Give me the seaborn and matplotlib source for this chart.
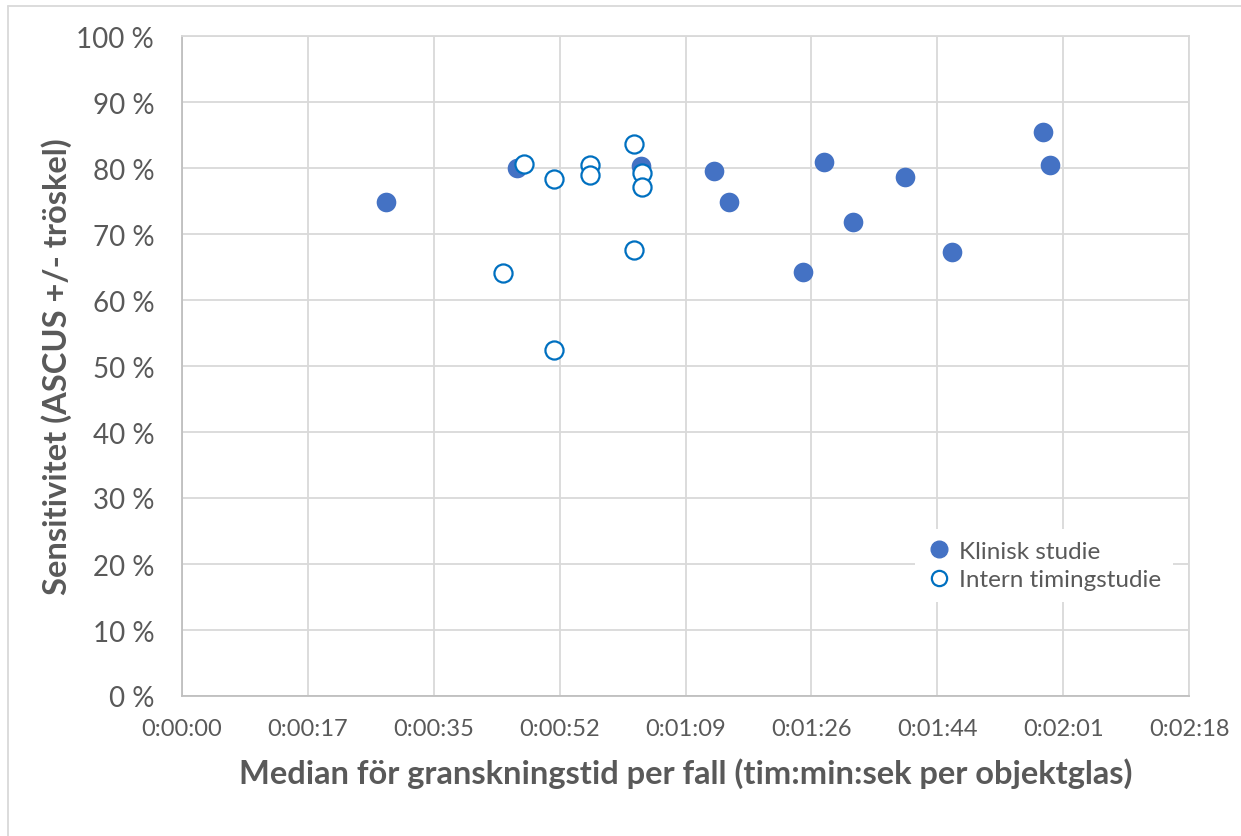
import matplotlib
matplotlib.use("Agg")
import matplotlib.pyplot as plt
import seaborn as sns
import pandas as pd
from matplotlib.lines import Line2D

# median review time per case (seconds) and sensitivity (%)
klinisk_sek = [28.0, 46.0, 63.0, 73.1, 75.1, 85.2, 88.1, 92.1, 99.2, 105.7, 118.2, 119.2]
klinisk_sens = [74.8, 80.0, 80.3, 79.6, 74.9, 64.2, 80.9, 71.8, 78.7, 67.2, 85.5, 80.5]

intern_sek = [44.1, 47.0, 51.0, 51.0, 56.05, 56.05, 62.05, 62.05, 63.1, 63.1]
intern_sens = [64.1, 80.6, 78.3, 52.4, 80.4, 78.9, 83.7, 67.6, 79.2, 77.1]

x_ticks = [0, 17.28, 34.56, 51.84, 69.12, 86.4, 103.68, 120.96, 138.24]
x_labels = ["0:00:00", "0:00:17", "0:00:35", "0:00:52", "0:01:09",
            "0:01:26", "0:01:44", "0:02:01", "0:02:18"]
y_ticks = [0, 10, 20, 30, 40, 50, 60, 70, 80, 90, 100]
y_labels = [f"{v} %" for v in y_ticks]

sns.set_style("white")
plt.rcParams["font.family"] = ["Lato", "DejaVu Sans"]

GREY = "#595959"
GRID = "#d9d9d9"

fig = plt.figure(figsize=(12.41, 8.37), dpi=100)
ax = fig.add_axes([182 / 1241, 1 - 697 / 837, 1007 / 1241, 660 / 837])

df_k = pd.DataFrame({"tid": klinisk_sek, "sens": klinisk_sens})
df_i = pd.DataFrame({"tid": intern_sek, "sens": intern_sens})

sns.scatterplot(data=df_k, x="tid", y="sens", ax=ax, s=200, color="#4472C4",
                edgecolor="#4472C4", linewidth=0, zorder=3)
sns.scatterplot(data=df_i, x="tid", y="sens", ax=ax, s=170, facecolor="white",
                edgecolor="#0070C0", linewidth=1.6, zorder=4)

ax.set_xlim(0, 138.24)
ax.set_ylim(0, 100)
ax.set_xticks(x_ticks)
ax.set_xticklabels(x_labels)
ax.set_yticks(y_ticks)
ax.set_yticklabels(y_labels)
ax.grid(True, color=GRID, linewidth=1.3)
ax.set_axisbelow(True)
for side in ["top", "right"]:
    ax.spines[side].set_color(GRID)
    ax.spines[side].set_linewidth(1.3)
for side in ["left", "bottom"]:
    ax.spines[side].set_color("#bfbfbf")
    ax.spines[side].set_linewidth(1.3)

ax.tick_params(axis="x", length=0, pad=16, labelsize=17, labelcolor=GREY)
ax.tick_params(axis="y", length=0, pad=20, labelsize=20, labelcolor=GREY)

ax.set_xlabel("Median för granskningstid per fall (tim:min:sek per objektglas)",
              fontsize=23.5, fontweight="bold", color=GREY, labelpad=13)
ax.set_ylabel("Sensitivitet (ASCUS +/- tröskel)",
              fontsize=23.5, fontweight="bold", color=GREY, labelpad=3)

handles = [
    Line2D([], [], marker="o", linestyle="none", markersize=12,
           markerfacecolor="#4472C4", markeredgecolor="#4472C4"),
    Line2D([], [], marker="o", linestyle="none", markersize=11,
           markerfacecolor="white", markeredgecolor="#0070C0", markeredgewidth=1.6),
]
leg = ax.legend(handles, ["Klinisk studie", "Intern timingstudie"],
                loc="lower left", bbox_to_anchor=(0.728, 0.142), frameon=True,
                fontsize=17.5, handletextpad=0.3, handlelength=1.0,
                labelspacing=0.3, borderpad=0.5, borderaxespad=0)
leg.get_frame().set_facecolor("white")
leg.get_frame().set_edgecolor("none")
leg.get_frame().set_alpha(1)
for t in leg.get_texts():
    t.set_color(GREY)

# outer chart frame (top and left edges visible)
fig.add_artist(Line2D([8 / 1241, 1.0], [1 - 7 / 837, 1 - 7 / 837],
                      color=GRID, linewidth=1.3))
fig.add_artist(Line2D([8 / 1241, 8 / 1241], [0, 1 - 7 / 837],
                      color=GRID, linewidth=1.3))

fig.savefig("out.png", dpi=100)
